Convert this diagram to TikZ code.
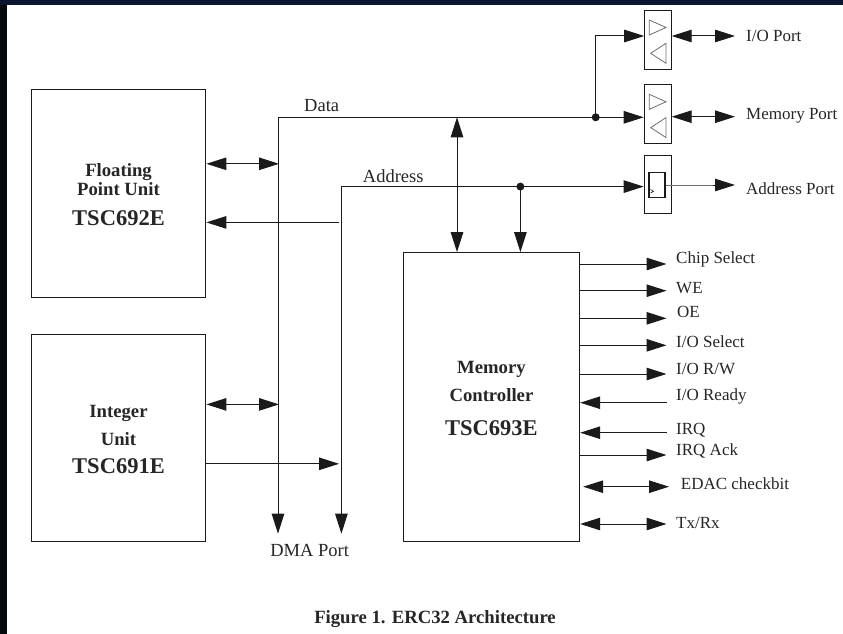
\documentclass[tikz,border=0pt]{standalone}
\usepackage{fontspec}
\setmainfont{Liberation Serif}
\usetikzlibrary{arrows.meta,calc}
\definecolor{ink}{HTML}{1A1A1A}
\definecolor{txt}{HTML}{262626}
\definecolor{frameL}{HTML}{05080F}
\definecolor{frameT}{HTML}{0C1530}
\definecolor{bufgray}{HTML}{707070}
\tikzset{
  box/.style={draw=ink,line width=1.2pt,inner sep=0pt},
  bus/.style={draw=ink,line width=1pt},
  lbl/.style={text=txt,font=\fontsize{17}{17}\selectfont,inner sep=0pt},
  lblb/.style={text=txt,font=\fontsize{18.5}{18.5}\selectfont,inner sep=0pt},
  btitle/.style={text=txt,font=\bfseries\fontsize{18.7}{19}\selectfont,inner sep=0pt},
  bcode/.style={text=txt,font=\bfseries\fontsize{22.5}{23}\selectfont,inner sep=0pt},
  tri/.style={draw=bufgray,line width=0.8pt},
}
\begin{document}
\begin{tikzpicture}[x=1pt,y=-1pt,>={Triangle[length=20pt,width=12.5pt]}]
\path[use as bounding box,fill=white] (0,0) rectangle (843,634);
\fill[frameL] (0,0) rectangle (7,634);
\fill[frameT] (0,0) rectangle (843,5);

% main blocks
\node[box,minimum width=174pt,minimum height=208pt] (fpu) at (118.8,193.3) {};
\node[box,minimum width=174pt,minimum height=207.4pt] (iu) at (118.8,438.1) {};
\node[box,minimum width=176.4pt,minimum height=289pt] (mc) at (491.4,397.2) {};

\node[btitle] (fpu1) at (118.5,172.5) {Floating};
\node[btitle] (fpu2) at (118.5,189.5) {Point Unit};
\node[bcode]  (fpu3) at (118.5,218.5) {TSC692E};
\node[btitle] (iu1) at (118.5,413.3) {Integer};
\node[btitle] (iu2) at (118.5,439.5) {Unit};
\node[bcode]  (iu3) at (118.5,465.8) {TSC691E};
\node[btitle] (mc1) at (491.4,369.2) {Memory};
\node[btitle] (mc2) at (491.4,395) {Controller};
\node[bcode]  (mc3) at (491.4,428.6) {TSC693E};

% buffers
\node[box,line width=1pt,minimum width=27pt,minimum height=59pt] (iobuf) at (657.7,39.6) {};
\node[box,line width=1pt,minimum width=27pt,minimum height=59pt] (membuf) at (657.7,113.9) {};
\node[box,line width=1pt,minimum width=27pt,minimum height=58.5pt] (addrbuf) at (657.7,184.6) {};
\node[box,line width=1.2pt,minimum width=16pt,minimum height=25pt] (reg) at (657,185.2) {};

\draw[tri] (649.3,20) -- (666,27.5) -- (649.3,35) -- cycle;
\draw[tri] (666,43.3) -- (650.7,53.3) -- (666,63.3) -- cycle;
\draw[tri] (649.3,94.3) -- (666,101.8) -- (649.3,109.3) -- cycle;
\draw[tri] (666,117.6) -- (650.7,127.6) -- (666,137.6) -- cycle;
\draw[ink,line width=0.6pt] (650.5,189.5) -- (653.5,191.3) -- (650.5,193);

% bus coordinates
\coordinate (dtop) at (278,117.3);
\coordinate (dbot) at (278,533.7);
\coordinate (atop) at (341.4,186.6);
\coordinate (abot) at (341.4,533.7);
\coordinate (j1) at (595.7,117.3);
\coordinate (j2) at (520.4,186.6);
\coordinate (dm) at (457,117.3);
\coordinate (ioin) at (644.2,36);

% data bus
\draw[bus,<->] (dbot) -- (dtop) -- (dtop -| membuf.west);
\draw[bus,->] (j1) |- (ioin);
\fill[ink] (j1) circle (4pt);
\draw[bus,<->] (dm) -- (dm |- mc.north);

% address bus
\draw[bus,<->] (abot) -- (atop) -- (atop -| addrbuf.west);
\fill[ink] (j2) circle (4pt);
\draw[bus,->] (j2) -- (j2 |- mc.north);

\node[lblb,anchor=west] (data) at (304,106) {Data};
\node[lblb,anchor=west] (addr) at (362.7,175.7) {Address};
\node[lblb] (dma) at (309.7,550) {DMA Port};

% FPU / IU links
\coordinate (f1) at (279,163.8);
\coordinate (f2) at (339,222.4);
\coordinate (i1) at (279,404.4);
\coordinate (i2) at (339,463.8);
\draw[bus,<->] (fpu.east |- f1) -- (f1);
\draw[bus,<-] (fpu.east |- f2) -- (f2);
\draw[bus,<->] (iu.east |- i1) -- (i1);
\draw[bus,->] (iu.east |- i2) -- (i2);

% ports
\coordinate (iop) at (735,36);
\coordinate (mp) at (735,116.7);
\coordinate (ap) at (735,185);
\draw[bus,<->] (iobuf.east |- iop) -- (iop);
\draw[bus,<->] (membuf.east |- mp) -- (mp);
\draw[draw=bufgray,line width=0.8pt] (reg.east |- ap) -- ++(50,0);
\draw[bus,->] ([xshift=-22pt]ap) -- (ap);
\node[lbl,anchor=west] (ioport) at (746,36) {I/O Port};
\node[lbl,anchor=west] (memport) at (746,116) {Memory Port};
\node[lbl,anchor=west] (addrport) at (746,188.5) {Address Port};

% memory controller signals
\coordinate (s1) at (666.5,264);
\coordinate (s2) at (666.5,290.7);
\coordinate (s3) at (666.5,318.3);
\coordinate (s4) at (666.5,345.3);
\coordinate (s5) at (666.5,374);
\coordinate (s6) at (666.5,402.7);
\coordinate (s7) at (666.5,432.7);
\coordinate (s8) at (666.5,455);
\coordinate (s9) at (669,486.7);
\coordinate (s10) at (666.5,524);
\draw[bus,->] (mc.east |- s1) -- (s1);
\draw[bus,->] (mc.east |- s2) -- (s2);
\draw[bus,->] (mc.east |- s3) -- (s3);
\draw[bus,->] (mc.east |- s4) -- (s4);
\draw[bus,->] (mc.east |- s5) -- (s5);
\draw[bus,<-] (mc.east |- s6) -- (s6);
\draw[bus,<-] (mc.east |- s7) -- (s7);
\draw[bus,->] (mc.east |- s8) -- (s8);
\draw[bus,<->] ([xshift=3pt]mc.east |- s9) -- (s9);
\draw[bus,<->] (mc.east |- s10) -- (s10);

\node[lbl,anchor=west] (l1) at (676,259) {Chip Select};
\node[lbl,anchor=west] (l2) at (676,287.7) {WE};
\node[lbl,anchor=west] (l3) at (677,312) {OE};
\node[lbl,anchor=west] (l4) at (676,341.7) {I/O Select};
\node[lbl,anchor=west] (l5) at (676,369) {I/O R/W};
\node[lbl,anchor=west] (l6) at (676,396.7) {I/O Ready};
\node[lbl,anchor=west] (l7) at (676,430.7) {IRQ};
\node[lbl,anchor=west] (l8) at (676,450.7) {IRQ Ack};
\node[lbl,anchor=west] (l9) at (680.7,483.3) {EDAC checkbit};
\node[lbl,anchor=west] (l10) at (676,523.3) {Tx/Rx};

% caption
\node[text=txt,font=\bfseries\fontsize{18.7}{19}\selectfont,inner sep=0pt] (cap) at (435,618.7) {Figure 1. ERC32 Architecture};
\end{tikzpicture}
\end{document}
